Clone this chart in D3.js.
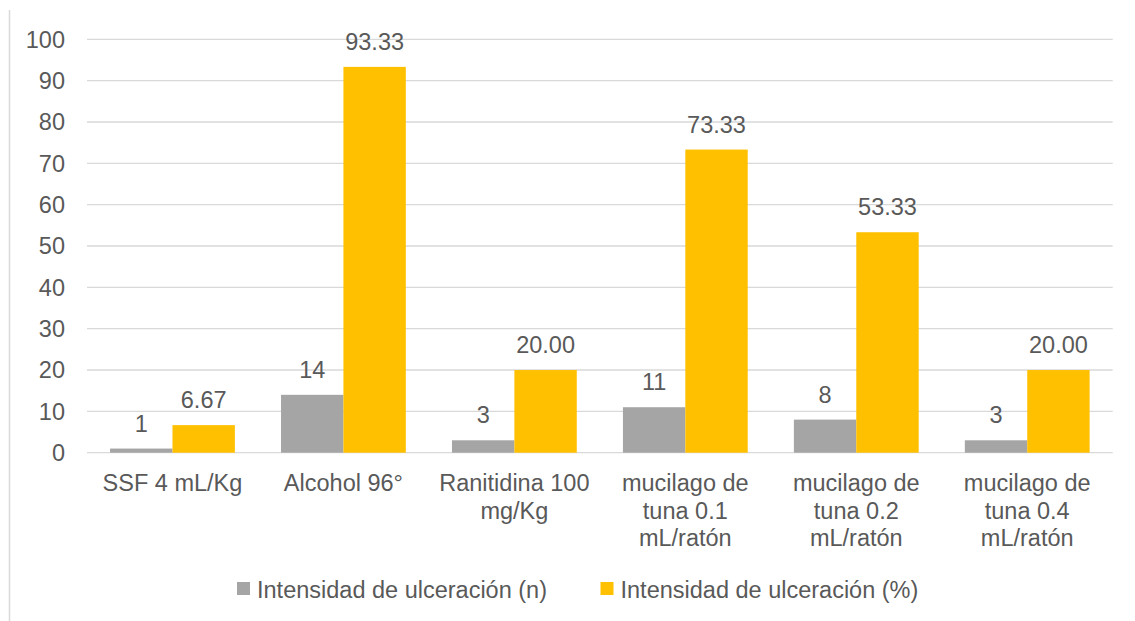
<!DOCTYPE html>
<html>
<head>
<meta charset="utf-8">
<script src="https://cdn.jsdelivr.net/npm/d3@7"></script>
<style>
  html, body { margin: 0; padding: 0; background: #fff; }
  svg { display: block; font-family: "Liberation Sans", Arial, sans-serif; }
</style>
</head>
<body>
<svg id="chart" width="1135" height="621"></svg>
<script>
// Treatment groups shown along the x axis
const categories = [
  "SSF 4 mL/Kg",
  "Alcohol 96°",
  "Ranitidina 100 mg/Kg",
  "mucilago de tuna 0.1 mL/ratón",
  "mucilago de tuna 0.2 mL/ratón",
  "mucilago de tuna 0.4 mL/ratón"
];
const seriesNames = ["Intensidad de ulceración (n)", "Intensidad de ulceración (%)"];
const ulcerCount   = [1, 14, 3, 11, 8, 3];
const ulcerPercent = [6.67, 93.33, 20.00, 73.33, 53.33, 20.00];
const yTicks = [0, 10, 20, 30, 40, 50, 60, 70, 80, 90, 100];
const seriesColors = ["#a5a5a5", "#ffc000"];

const svg = d3.select("#chart");
const textColor = "#595959";
const fontSize = 23.5;

const plot = { left: 87, right: 1112.7, top: 39.3, bottom: 452.7 };

const x0 = d3.scaleBand()
  .domain(categories)
  .range([plot.left, plot.right])
  .paddingInner(0.27)
  .paddingOuter(0.135);

const x1 = d3.scaleBand()
  .domain([0, 1])
  .range([0, x0.bandwidth()])
  .padding(0);

const y = d3.scaleLinear().domain([0, 100]).range([plot.bottom, plot.top]);

// Outer frame edge on the left
svg.append("line")
  .attr("x1", 9.5).attr("x2", 9.5)
  .attr("y1", 10).attr("y2", 621)
  .attr("stroke", "#d9d9d9").attr("stroke-width", 1.5);

// Horizontal gridlines
svg.append("g")
  .selectAll("line")
  .data(yTicks)
  .join("line")
  .attr("x1", plot.left).attr("x2", plot.right)
  .attr("y1", d => y(d)).attr("y2", d => y(d))
  .attr("stroke", "#d9d9d9").attr("stroke-width", 1.3);

// Y axis labels
svg.append("g")
  .selectAll("text")
  .data(yTicks)
  .join("text")
  .attr("x", 65)
  .attr("y", d => y(d))
  .attr("dy", "0.36em")
  .attr("text-anchor", "end")
  .attr("fill", textColor)
  .attr("font-size", fontSize)
  .text(d => d);

// Bars
const rows = categories.map((c, i) => ({
  cat: c,
  vals: [
    { s: 0, v: ulcerCount[i], label: d3.format("d")(ulcerCount[i]) },
    { s: 1, v: ulcerPercent[i], label: d3.format(".2f")(ulcerPercent[i]) }
  ]
}));

const groups = svg.append("g")
  .selectAll("g")
  .data(rows)
  .join("g")
  .attr("transform", d => `translate(${x0(d.cat)},0)`);

groups.selectAll("rect")
  .data(d => d.vals)
  .join("rect")
  .attr("x", d => x1(d.s))
  .attr("width", x1.bandwidth())
  .attr("y", d => y(d.v))
  .attr("height", d => y(0) - y(d.v))
  .attr("fill", d => seriesColors[d.s]);

// Value labels above bars
groups.selectAll("text")
  .data(d => d.vals)
  .join("text")
  .attr("x", d => x1(d.s) + x1.bandwidth() / 2)
  .attr("y", d => y(d.v) - 17)
  .attr("text-anchor", "middle")
  .attr("fill", textColor)
  .attr("font-size", fontSize)
  .text(d => d.label);

// Category labels, word-wrapped to the band width
const catG = svg.append("g");
categories.forEach(c => {
  const cx = x0(c) + x0.bandwidth() / 2;
  const t = catG.append("text")
    .attr("text-anchor", "middle")
    .attr("fill", textColor)
    .attr("font-size", fontSize);
  const words = c.split(" ");
  let lines = [];
  let line = [];
  let tspan = t.append("tspan").attr("x", cx);
  words.forEach(w => {
    line.push(w);
    tspan.text(line.join(" "));
    if (tspan.node().getComputedTextLength() > 165 && line.length > 1) {
      line.pop();
      lines.push(line.join(" "));
      line = [w];
    }
  });
  lines.push(line.join(" "));
  tspan.remove();
  lines.forEach((l, i) => {
    t.append("tspan")
      .attr("x", cx)
      .attr("y", 491 + i * 27.5)
      .text(l);
  });
});

// Legend
const legend = svg.append("g");
const legendItems = [
  { name: seriesNames[0], color: seriesColors[0], x: 237 },
  { name: seriesNames[1], color: seriesColors[1], x: 600.5 }
];
legendItems.forEach(it => {
  legend.append("rect")
    .attr("x", it.x).attr("y", 582)
    .attr("width", 13).attr("height", 13)
    .attr("fill", it.color);
  legend.append("text")
    .attr("x", it.x + 20).attr("y", 598)
    .attr("fill", textColor)
    .attr("font-size", fontSize)
    .text(it.name);
});
</script>
</body>
</html>
